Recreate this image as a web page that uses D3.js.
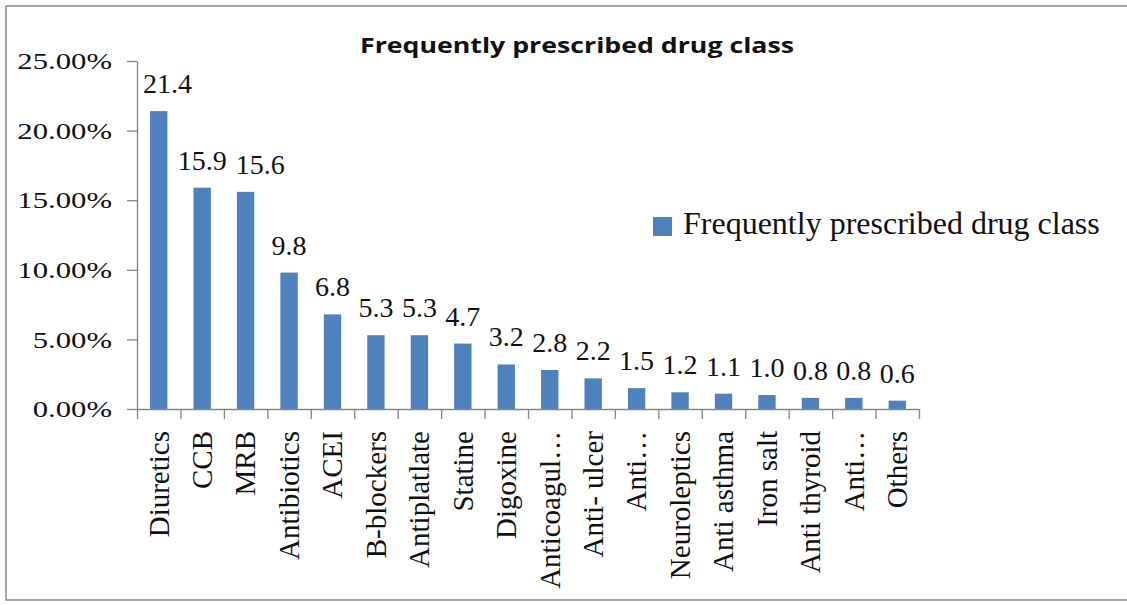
<!DOCTYPE html>
<html>
<head>
<meta charset="utf-8">
<script src="https://cdn.jsdelivr.net/npm/d3@7"></script>
<style>
  body { margin: 0; background: #fff; }
  svg { display: block; }
</style>
</head>
<body>
<div id="chart"></div>
<script>
// categories and values (percent)
var drugClasses = ["Diuretics", "CCB", "MRB", "Antibiotics", "ACEI", "B-blockers",
  "Antiplatlate", "Statine", "Digoxine", "Anticoagul\u2026", "Anti- ulcer", "Anti\u2026",
  "Neuroleptics", "Anti asthma", "Iron salt", "Anti thyroid", "Anti\u2026", "Others"];
var percentValues = [21.4, 15.9, 15.6, 9.8, 6.8, 5.3, 5.3, 4.7, 3.2, 2.8, 2.2, 1.5, 1.2, 1.1, 1.0, 0.8, 0.8, 0.6];
var yTicks = [0, 5, 10, 15, 20, 25];
var chartTitle = "Frequently prescribed drug class";
var seriesName = "Frequently prescribed drug class";

var W = 1127, H = 605;
var plotLeft = 137, plotRight = 919, plotTop = 61, plotBottom = 409;
var barColor = "#4f81bd", axisColor = "#868686";
var serif = "'Liberation Serif', 'Times New Roman', serif";

var svg = d3.select("#chart").append("svg")
  .attr("width", W)
  .attr("height", H);

// outer chart frame
svg.append("rect")
  .attr("x", 6).attr("y", 6)
  .attr("width", W + 20).attr("height", 594)
  .attr("fill", "#fff")
  .attr("stroke", "#8c8c8c")
  .attr("stroke-width", 1.5);

var data = drugClasses.map(function(d, i) { return { name: d, value: percentValues[i], idx: i }; });

// band scale for bars, linear one for the category boundary ticks
var x = d3.scaleBand()
  .domain(data.map(function(d) { return d.idx; }))
  .range([plotLeft, plotRight])
  .paddingInner(0.6)
  .paddingOuter(0.3);

var xEdges = d3.scaleLinear().domain([0, data.length]).range([plotLeft, plotRight]);

var y = d3.scaleLinear().domain([0, 25]).range([plotBottom, plotTop]);

// y axis
var yAxis = svg.append("g")
  .attr("transform", "translate(" + plotLeft + ",0)")
  .call(d3.axisLeft(y).tickValues(yTicks).tickSize(10).tickSizeOuter(0).tickFormat(""));
yAxis.select(".domain").attr("stroke", axisColor).attr("stroke-width", 1.3);
yAxis.selectAll(".tick line").attr("stroke", axisColor).attr("stroke-width", 1.3);

// y tick labels (slightly stretched like the source)
svg.append("g").selectAll("g")
  .data(yTicks)
  .enter().append("g")
    .attr("transform", function(d) { return "translate(112," + y(d) + ") scale(1.28,1)"; })
  .append("text")
    .attr("text-anchor", "end")
    .attr("dy", "0.34em")
    .attr("font-family", serif)
    .attr("font-size", 24)
    .attr("fill", "#111")
    .text(function(d) { return d.toFixed(2) + "%"; });

// bars
svg.append("g").selectAll("rect")
  .data(data)
  .enter().append("rect")
    .attr("x", function(d) { return x(d.idx); })
    .attr("y", function(d) { return y(d.value); })
    .attr("width", x.bandwidth())
    .attr("height", function(d) { return y(0) - y(d.value); })
    .attr("fill", barColor);

// x axis with ticks between categories
var xAxis = svg.append("g")
  .attr("transform", "translate(0," + plotBottom + ")")
  .call(d3.axisBottom(xEdges).tickValues(d3.range(0, data.length + 1)).tickSize(10).tickSizeOuter(0).tickFormat(""));
xAxis.select(".domain").attr("stroke", axisColor).attr("stroke-width", 1.3);
xAxis.selectAll(".tick line").attr("stroke", axisColor).attr("stroke-width", 1.3);

// rotated category labels
svg.append("g").selectAll("text")
  .data(data)
  .enter().append("text")
    .attr("transform", function(d) {
      return "translate(" + (x(d.idx) + x.bandwidth() / 2) + "," + (plotBottom + 22) + ") rotate(-90)";
    })
    .attr("text-anchor", "end")
    .attr("dy", "0.34em")
    .attr("font-family", serif)
    .attr("font-size", 29)
    .attr("fill", "#111")
    .text(function(d) { return d.name; });

// value labels, pushed right when they hit the axis or overlap the previous label
var valueLabels = svg.append("g").selectAll("text")
  .data(data)
  .enter().append("text")
    .attr("y", function(d) { return y(d.value) - 18; })
    .attr("text-anchor", "start")
    .attr("font-family", serif)
    .attr("font-size", 28)
    .attr("fill", "#111")
    .text(function(d) { return d.value.toFixed(1); });

var prevRight = -1000, prevY = -1000;
valueLabels.each(function(d) {
  var w = this.getComputedTextLength();
  var ly = y(d.value) - 18;
  var lx = x(d.idx) + x.bandwidth() / 2 - w / 2;
  if (Math.abs(ly - prevY) < 24 && lx < prevRight + 2) lx = prevRight + 9;
  if (lx < plotLeft + 6) lx = plotLeft + 6;
  d3.select(this).attr("x", lx);
  prevRight = lx + w;
  prevY = ly;
});

// title
svg.append("text")
  .attr("x", 577)
  .attr("y", 53)
  .attr("text-anchor", "middle")
  .attr("font-family", "'Open Sans', 'Liberation Sans', sans-serif")
  .attr("font-weight", "bold")
  .attr("font-size", 21)
  .attr("textLength", 434)
  .attr("lengthAdjust", "spacingAndGlyphs")
  .attr("fill", "#111")
  .text(chartTitle);

// legend
var legend = svg.append("g").attr("transform", "translate(653,217)");
legend.append("rect")
  .attr("width", 19).attr("height", 19)
  .attr("fill", barColor);
legend.append("text")
  .attr("x", 30)
  .attr("y", 17)
  .attr("font-family", serif)
  .attr("font-size", 32)
  .attr("fill", "#111")
  .text(seriesName);
</script>
</body>
</html>
